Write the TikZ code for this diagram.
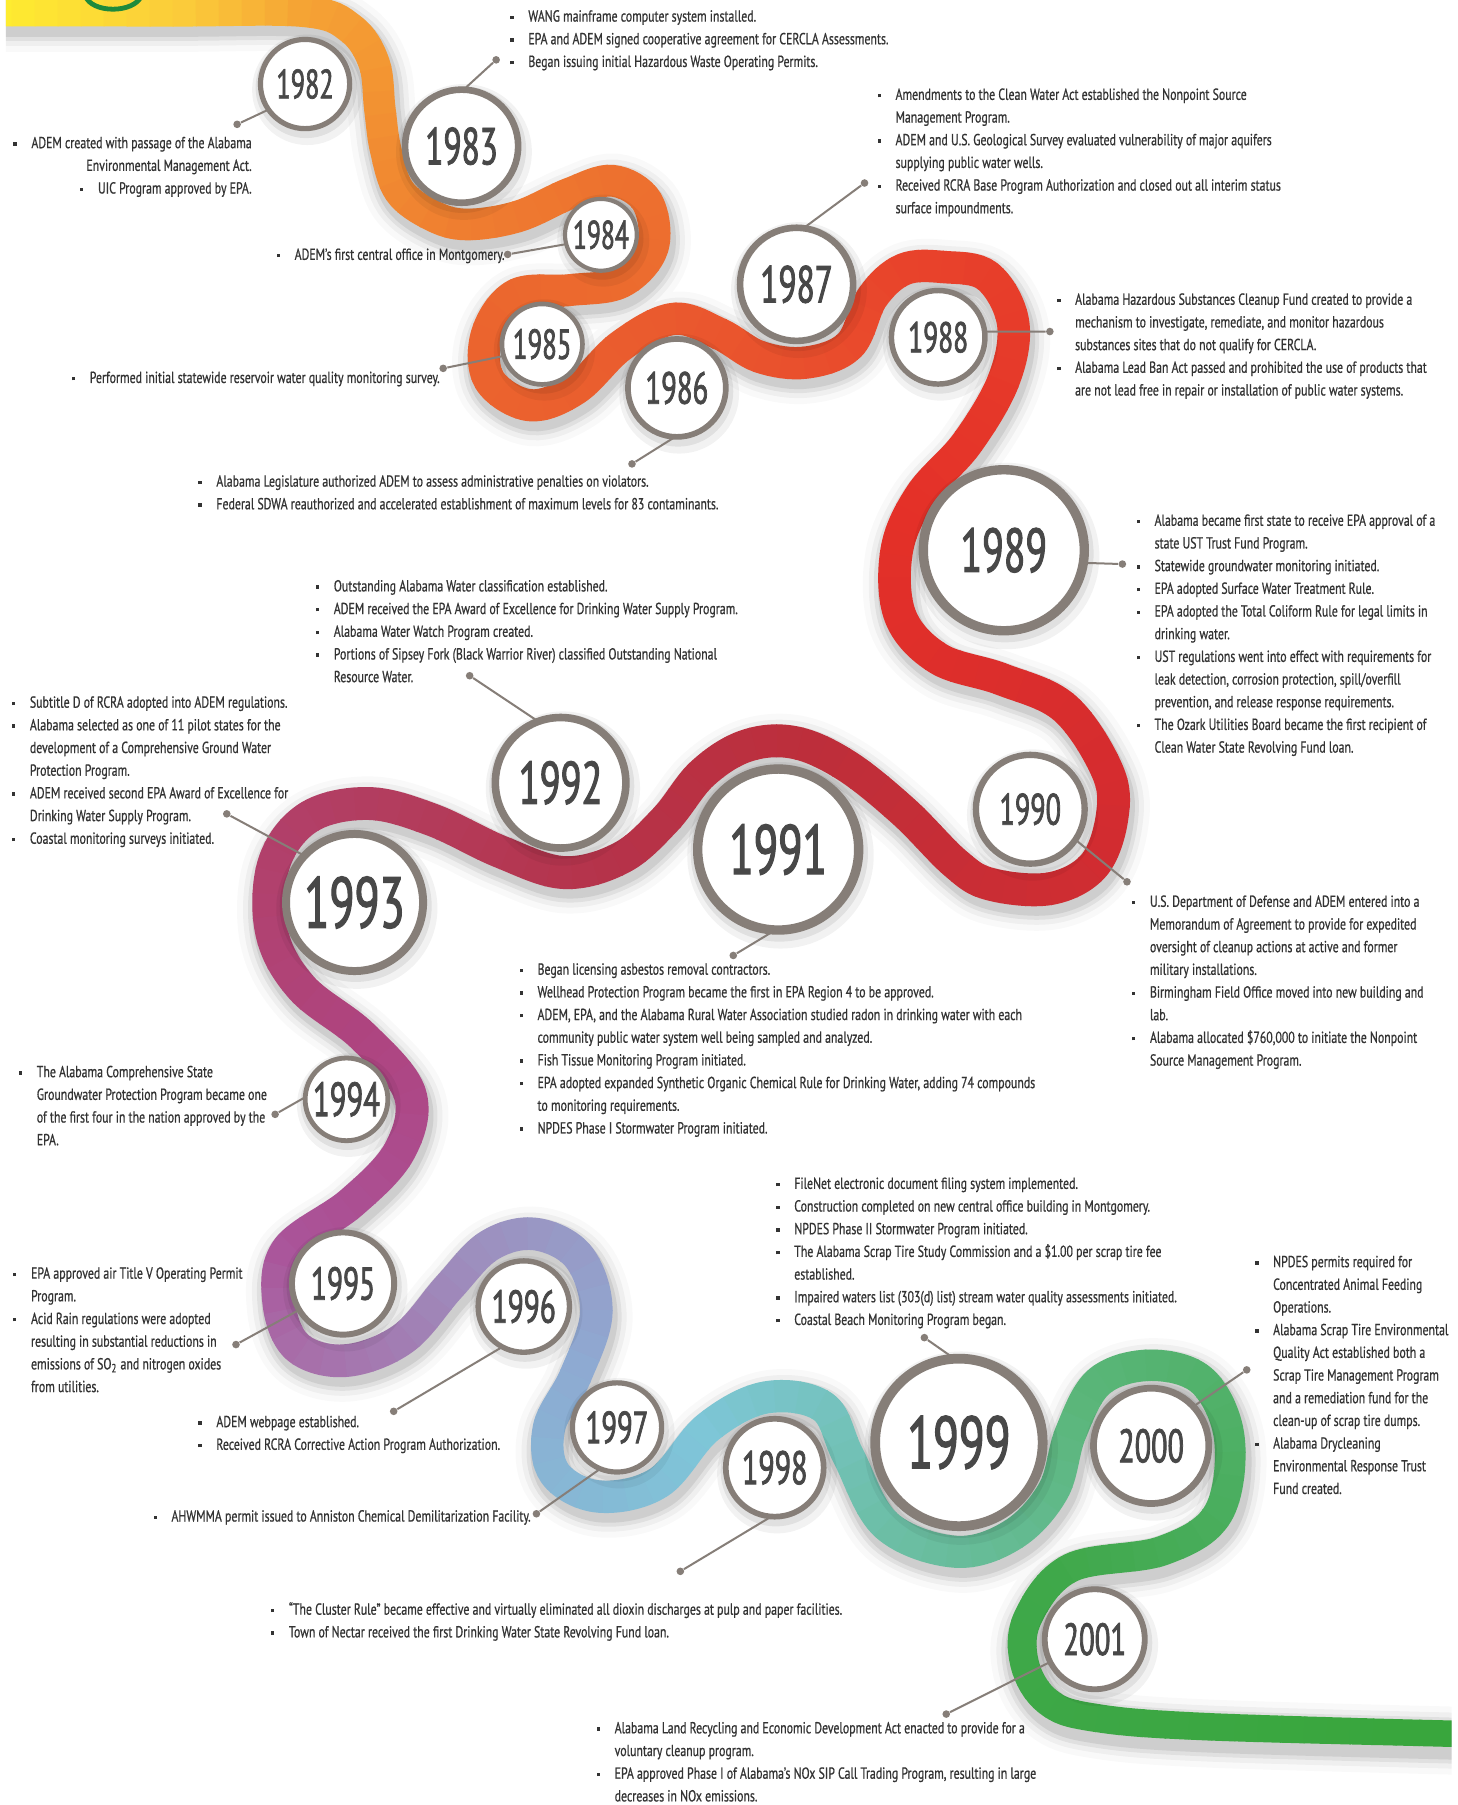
\documentclass[tikz,border=0pt]{standalone}
\usepackage{fontspec}
\newfontfamily\bodyfont{PT Sans}[FakeStretch=0.74, FakeBold=0.7]
\newfontfamily\yearfont{PT Sans}[FakeStretch=0.64, FakeBold=1.6]

\definecolor{ring}{HTML}{867E78}
\definecolor{yeartext}{HTML}{484848}
\definecolor{notetext}{HTML}{333333}
\definecolor{titlegreen}{HTML}{1E8A3C}
% ribbon colours, from start to end
\definecolor{rb0}{HTML}{FFF02F}
\definecolor{rb1}{HTML}{FBCB3A}
\definecolor{rb2}{HTML}{F5A234}
\definecolor{rb3}{HTML}{EF7D30}
\definecolor{rb4}{HTML}{ED712F}
\definecolor{rb5}{HTML}{EB652E}
\definecolor{rb6}{HTML}{EA5A2E}
\definecolor{rb7}{HTML}{E9502D}
\definecolor{rb8}{HTML}{E8422B}
\definecolor{rb9}{HTML}{E43028}
\definecolor{rb10}{HTML}{D52C2F}
\definecolor{rb11}{HTML}{BE2E3A}
\definecolor{rb12}{HTML}{B5334A}
\definecolor{rb13}{HTML}{B33C5C}
\definecolor{rb14}{HTML}{B1416E}
\definecolor{rb15}{HTML}{AE4582}
\definecolor{rb16}{HTML}{AA549A}
\definecolor{rb17}{HTML}{A86CA8}
\definecolor{rb18}{HTML}{9D8FBE}
\definecolor{rb19}{HTML}{8EAAD2}
\definecolor{rb20}{HTML}{7EC6D8}
\definecolor{rb21}{HTML}{6DBFA8}
\definecolor{rb22}{HTML}{5BB67B}
\definecolor{rb23}{HTML}{3FA84A}
\definecolor{rb24}{HTML}{39A63D}

\newcommand\ribmix[5]{%
  \pgfmathtruncatemacro\ribpct{(#1-#2)/(#3-#2)*100}%
  \colorlet{ribcol}{#5!\ribpct!#4}}
\newcommand\ribcolorat[1]{%
  \ifnum#1<330 \ribmix{#1}{0}{330}{rb0}{rb1}\else
  \ifnum#1<520 \ribmix{#1}{330}{520}{rb1}{rb2}\else
  \ifnum#1<1000 \ribmix{#1}{520}{1000}{rb2}{rb3}\else
  \ifnum#1<1250 \ribmix{#1}{1000}{1250}{rb3}{rb4}\else
  \ifnum#1<1700 \ribmix{#1}{1250}{1700}{rb4}{rb5}\else
  \ifnum#1<2115 \ribmix{#1}{1700}{2115}{rb5}{rb6}\else
  \ifnum#1<2340 \ribmix{#1}{2115}{2340}{rb6}{rb7}\else
  \ifnum#1<2620 \ribmix{#1}{2340}{2620}{rb7}{rb8}\else
  \ifnum#1<3190 \ribmix{#1}{2620}{3190}{rb8}{rb9}\else
  \ifnum#1<3790 \ribmix{#1}{3190}{3790}{rb9}{rb10}\else
  \ifnum#1<4430 \ribmix{#1}{3790}{4430}{rb10}{rb11}\else
  \ifnum#1<4870 \ribmix{#1}{4430}{4870}{rb11}{rb12}\else
  \ifnum#1<5195 \ribmix{#1}{4870}{5195}{rb12}{rb13}\else
  \ifnum#1<5500 \ribmix{#1}{5195}{5500}{rb13}{rb14}\else
  \ifnum#1<5830 \ribmix{#1}{5500}{5830}{rb14}{rb15}\else
  \ifnum#1<6245 \ribmix{#1}{5830}{6245}{rb15}{rb16}\else
  \ifnum#1<6400 \ribmix{#1}{6245}{6400}{rb16}{rb17}\else
  \ifnum#1<6770 \ribmix{#1}{6400}{6770}{rb17}{rb18}\else
  \ifnum#1<7140 \ribmix{#1}{6770}{7140}{rb18}{rb19}\else
  \ifnum#1<7600 \ribmix{#1}{7140}{7600}{rb19}{rb20}\else
  \ifnum#1<8020 \ribmix{#1}{7600}{8020}{rb20}{rb21}\else
  \ifnum#1<8480 \ribmix{#1}{8020}{8480}{rb21}{rb22}\else
  \ifnum#1<9220 \ribmix{#1}{8480}{9220}{rb22}{rb23}\else
  \ribmix{#1}{9220}{10000}{rb23}{rb24}%
  \fi\fi\fi\fi\fi\fi\fi\fi\fi\fi\fi\fi\fi\fi\fi\fi\fi\fi\fi\fi\fi\fi\fi}

\newcommand\bul{\makebox[9pt][l]{\rule[1.3pt]{1.7pt}{1.7pt}}}
\newcommand\ind{\hspace*{9pt}}

\def\ribbonpath{plot[smooth, tension=0.6] coordinates {(-30,9.5) (150,9.5) (265,10)
  (305,25) (325,55) (330,95) (335,130) (347,166) (375,187) (405,195) (450,188) (495,168)
  (532,157) (562,175) (567,215) (540,245) (495,252) (448,256) (423,290) (425,330) (460,352)
  (500,338) (540,300) (585,277) (625,290) (660,310) (700,315) (738,300) (758,258) (785,234)
  (820,232) (858,240) (880,280) (872,330) (840,385) (800,430) (779,478) (782,535) (815,572)
  (870,590) (925,615) (962,670) (966,710) (950,752) (912,772) (860,768) (830,750) (785,705)
  (735,665) (690,645) (648,648) (610,672) (578,712) (540,745) (490,758) (435,740) (375,712)
  (320,698) (268,710) (238,750) (236,810) (262,858) (315,900) (356,950) (347,1000) (305,1045)
  (250,1085) (242,1130) (258,1170) (300,1182) (350,1163) (390,1118) (425,1082) (465,1072)
  (503,1092) (518,1140) (500,1195) (477,1240) (482,1280) (520,1300) (572,1288) (615,1240)
  (665,1214) (715,1222) (737,1265) (770,1325) (830,1348) (880,1333) (915,1295) (930,1245)
  (955,1200) (1000,1186) (1045,1200) (1068,1250) (1058,1315) (1010,1347) (930,1362)
  (893,1405) (890,1445) (910,1478) (950,1492) (1050,1500) (1300,1507)}}

\newcommand\yearnode[5]{%
  \pgfmathsetmacro\ringw{0.11*#4}%
  \fill[black, opacity=.05] (#2+2,#3+5) circle (#4+7);
  \fill[black, opacity=.07] (#2+1,#3+3) circle (#4+3);
  \node[yearc, line width=\ringw*0.5755pt, minimum size={(2*#4-\ringw)*0.5755pt},
    font=\yearfont\fontsize{#5}{#5}\selectfont] (y#1) at (#2,#3) {#1};}

\tikzset{
  yearc/.style={circle, draw=ring, fill=white, inner sep=0pt, outer sep=0pt, text=yeartext},
  note/.style={anchor=north west, inner sep=0pt, align=left, text=notetext,
    font=\bodyfont\fontsize{8}{11.34}\selectfont},
  link/.style={draw=ring, line width=1pt},
  dot/.style={circle, fill=ring, inner sep=0pt, minimum size=3.8pt},
  ribshadow/.style={black, shift={(2,6)}}
}

\begin{document}
\begin{tikzpicture}[x=0.5755pt, y=-0.5755pt]
  \fill[white] (0,0) rectangle (1266,1568);
  \useasboundingbox (0,0) rectangle (1266,1568);

  \begin{scope}
    \clip (5,-20) rectangle (1261,1600);
    \draw[ribshadow, opacity=.025, line width=34pt] \ribbonpath;
    \draw[ribshadow, opacity=.04, line width=28pt] \ribbonpath;
    \draw[ribshadow, opacity=.06, line width=23pt] \ribbonpath;
    \draw[ribshadow, opacity=.08, line width=19pt] \ribbonpath;
    \foreach \i in {0,...,285}{
      \pgfmathsetmacro\ribd{\i*11.51+0.01}
      \pgfmathtruncatemacro\ribf{min(10000,\i*36.6)}
      \ribcolorat{\ribf}
      \pgfmathsetmacro\ribw{1.151*(13.5+0.8*sin(0.018*\ribf)-2*max(0,(\ribf-8500)/1500))}
      \draw[ribcol, line width=\ribw pt, dash pattern=on 0pt off \ribd pt on 12pt off 16000pt] \ribbonpath;
    }
  \end{scope}
  \draw[titlegreen, line width=2.4pt] (74,-4) .. controls (79,12) and (117,12) .. (123,-4);

  \yearnode{1982}{265}{73}{41}{20.5}
  \yearnode{1983}{401}{127}{52}{26}
  \yearnode{1984}{522}{204}{33}{20}
  \yearnode{1985}{471}{299}{37}{21}
  \yearnode{1986}{588}{337}{45}{22.5}
  \yearnode{1987}{692}{247}{52}{26}
  \yearnode{1988}{815}{293}{43}{21.5}
  \yearnode{1989}{872}{478}{74}{31}
  \yearnode{1990}{895}{703}{50}{22}
  \yearnode{1991}{676}{738}{74}{35}
  \yearnode{1992}{487}{680}{60}{30}
  \yearnode{1993}{308}{784}{63}{36}
  \yearnode{1994}{301}{955}{38}{24}
  \yearnode{1995}{298}{1115}{47}{23}
  \yearnode{1996}{455}{1135}{42}{23}
  \yearnode{1997}{536}{1240}{41}{22.5}
  \yearnode{1998}{673}{1275}{45}{23.5}
  \yearnode{1999}{833}{1253}{77}{37}
  \yearnode{2000}{1000}{1256}{53}{23.5}
  \yearnode{2001}{951}{1424}{46}{22.5}

  \node[note, anchor=north east, align=right] (n1982) at (219,118.5)
    {\bul ADEM created with passage of the Alabama\\ Environmental Management Act.\\ \bul UIC Program approved by EPA.};
  \node[note] (n1983) at (443,8.5)
    {\bul WANG mainframe computer system installed.\\
     \bul EPA and ADEM signed cooperative agreement for CERCLA Assessments.\\
     \bul Began issuing initial Hazardous Waste Operating Permits.};
  \node[note] (n1984) at (240,215.5) {\bul ADEM’s first central office in Montgomery.};
  \node[note] (n1985) at (62,322.5) {\bul Performed initial statewide reservoir water quality monitoring survey.};
  \node[note] (n1986) at (172,412.5)
    {\bul Alabama Legislature authorized ADEM to assess administrative penalties on violators.\\
     \bul Federal SDWA reauthorized and accelerated establishment of maximum levels for 83 contaminants.};
  \node[note] (n1987) at (762,76.5)
    {\bul Amendments to the Clean Water Act established the Nonpoint Source\\
     \ind Management Program.\\
     \bul ADEM and U.S. Geological Survey evaluated vulnerability of major aquifers\\
     \ind supplying public water wells.\\
     \bul Received RCRA Base Program Authorization and closed out all interim status\\
     \ind surface impoundments.};
  \node[note] (n1988) at (918,254.5)
    {\bul Alabama Hazardous Substances Cleanup Fund created to provide a\\
     \ind mechanism to investigate, remediate, and monitor hazardous\\
     \ind substances sites that do not qualify for CERCLA.\\
     \bul Alabama Lead Ban Act passed and prohibited the use of products that\\
     \ind are not lead free in repair or installation of public water systems.};
  \node[note] (n1989) at (987,446.5)
    {\bul Alabama became first state to receive EPA approval of a\\
     \ind state UST Trust Fund Program.\\
     \bul Statewide groundwater monitoring initiated.\\
     \bul EPA adopted Surface Water Treatment Rule.\\
     \bul EPA adopted the Total Coliform Rule for legal limits in\\
     \ind drinking water.\\
     \bul UST regulations went into effect with requirements for\\
     \ind leak detection, corrosion protection, spill/overfill\\
     \ind prevention, and release response requirements.\\
     \bul The Ozark Utilities Board became the first recipient of\\
     \ind Clean Water State Revolving Fund loan.};
  \node[note] (n1990) at (983,777.5)
    {\bul U.S. Department of Defense and ADEM entered into a\\
     \ind Memorandum of Agreement to provide for expedited\\
     \ind oversight of cleanup actions at active and former\\
     \ind military installations.\\
     \bul Birmingham Field Office moved into new building and\\
     \ind lab.\\
     \bul Alabama allocated \$760,000 to initiate the Nonpoint\\
     \ind Source Management Program.};
  \node[note] (n1991) at (451,836.5)
    {\bul Began licensing asbestos removal contractors.\\
     \bul Wellhead Protection Program became the first in EPA Region 4 to be approved.\\
     \bul ADEM, EPA, and the Alabama Rural Water Association studied radon in drinking water with each\\
     \ind community public water system well being sampled and analyzed.\\
     \bul Fish Tissue Monitoring Program initiated.\\
     \bul EPA adopted expanded Synthetic Organic Chemical Rule for Drinking Water, adding 74 compounds\\
     \ind to monitoring requirements.\\
     \bul NPDES Phase I Stormwater Program initiated.};
  \node[note] (n1992) at (274,503.5)
    {\bul Outstanding Alabama Water classification established.\\
     \bul ADEM received the EPA Award of Excellence for Drinking Water Supply Program.\\
     \bul Alabama Water Watch Program created.\\
     \bul Portions of Sipsey Fork (Black Warrior River) classified Outstanding National\\
     \ind Resource Water.};
  \node[note] (n1993) at (10,604.5)
    {\bul Subtitle D of RCRA adopted into ADEM regulations.\\
     \bul Alabama selected as one of 11 pilot states for the\\
     \ind development of a Comprehensive Ground Water\\
     \ind Protection Program.\\
     \bul ADEM received second EPA Award of Excellence for\\
     \ind Drinking Water Supply Program.\\
     \bul Coastal monitoring surveys initiated.};
  \node[note] (n1994) at (16,925.5)
    {\bul The Alabama Comprehensive State\\
     \ind Groundwater Protection Program became one\\
     \ind of the first four in the nation approved by the\\
     \ind EPA.};
  \node[note] (n1995) at (11,1100.5)
    {\bul EPA approved air Title V Operating Permit\\
     \ind Program.\\
     \bul Acid Rain regulations were adopted\\
     \ind resulting in substantial reductions in\\
     \ind emissions of SO\textsubscript{2} and nitrogen oxides\\
     \ind from utilities.};
  \node[note] (n1996) at (172,1229.5)
    {\bul ADEM webpage established.\\
     \bul Received RCRA Corrective Action Program Authorization.};
  \node[note] (n1997) at (133,1311.5) {\bul AHWMMA permit issued to Anniston Chemical Demilitarization Facility.};
  \node[note] (n1998) at (235,1391.5)
    {\bul “The Cluster Rule” became effective and virtually eliminated all dioxin discharges at pulp and paper facilities.\\
     \bul Town of Nectar received the first Drinking Water State Revolving Fund loan.};
  \node[note] (n1999) at (674,1022.5)
    {\bul FileNet electronic document filing system implemented.\\
     \bul Construction completed on new central office building in Montgomery.\\
     \bul NPDES Phase II Stormwater Program initiated.\\
     \bul The Alabama Scrap Tire Study Commission and a \$1.00 per scrap tire fee\\
     \ind established.\\
     \bul Impaired waters list (303(d) list) stream water quality assessments initiated.\\
     \bul Coastal Beach Monitoring Program began.};
  \node[note] (n2000) at (1090,1090.5)
    {\bul NPDES permits required for\\
     \ind Concentrated Animal Feeding\\
     \ind Operations.\\
     \bul Alabama Scrap Tire Environmental\\
     \ind Quality Act established both a\\
     \ind Scrap Tire Management Program\\
     \ind and a remediation fund for the\\
     \ind clean-up of scrap tire dumps.\\
     \bul Alabama Drycleaning\\
     \ind Environmental Response Trust\\
     \ind Fund created.};
  \node[note] (n2001) at (518,1495.5)
    {\bul Alabama Land Recycling and Economic Development Act enacted to provide for a\\
     \ind voluntary cleanup program.\\
     \bul EPA approved Phase I of Alabama’s NOx SIP Call Trading Program, resulting in large\\
     \ind decreases in NOx emissions.};

  \node[dot] (d1982) at (206,108) {} edge[link] (y1982.215);
  \node[dot] (d1983) at (431,52) {} edge[link] (y1983.88);
  \node[dot] (d1984) at (441,221) {} edge[link] (y1984.195);
  \node[dot] (d1985) at (385,320) {} edge[link] (y1985.197);
  \node[dot] (d1986) at (549,403) {} edge[link] (y1986.268);
  \node[dot] (d1987) at (751,159) {} edge[link] (y1987.83);
  \node[dot] (d1988) at (912,288) {} edge[link] (y1988.7);
  \node[dot] (d1989) at (975,490) {} edge[link] (y1989.351);
  \node[dot] (d1990) at (979,766) {} edge[link] (y1990.326);
  \node[dot] (d1991) at (637,830) {} edge[link] (y1991.268);
  \node[dot] (d1992) at (408,587) {} edge[link] (y1992.110);
  \node[dot] (d1993) at (197,707) {} edge[link] (y1993.137);
  \node[dot] (d1994) at (239,968) {} edge[link] (y1994.177);
  \node[dot] (d1995) at (205,1168) {} edge[link] (y1995.211);
  \node[dot] (d1996) at (342,1226) {} edge[link] (y1996.242);
  \node[dot] (d1997) at (466,1315) {} edge[link] (y1997.248);
  \node[dot] (d1998) at (591,1365) {} edge[link] (y1998.266);
  \node[dot] (d1999) at (803,1162) {} edge[link] (y1999.93);
  \node[dot] (d2000) at (1083,1190) {} edge[link] (y2000.43);
  \node[dot] (d2001) at (822,1489) {} edge[link] (y2001.207);
\end{tikzpicture}
\end{document}
